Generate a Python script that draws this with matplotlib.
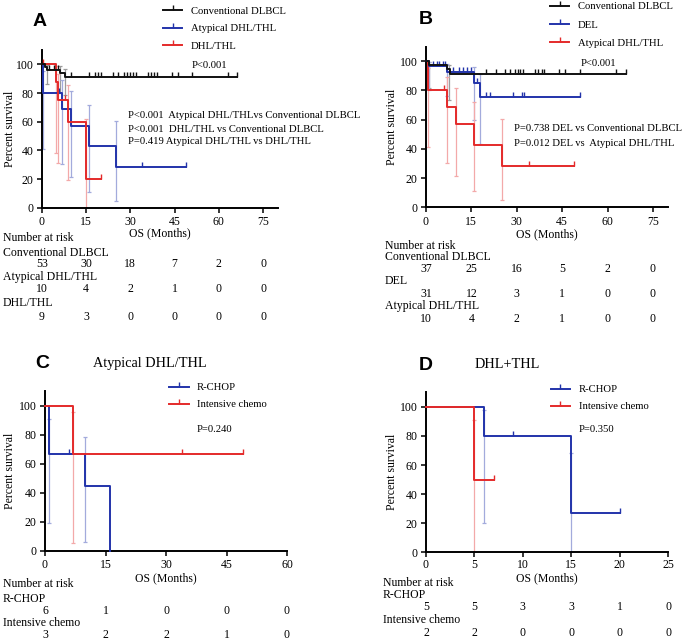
import numpy as np
import matplotlib
matplotlib.use('Agg')
import matplotlib.pyplot as plt
from matplotlib.lines import Line2D
from matplotlib.transforms import blended_transform_factory

plt.rcParams['font.family'] = ['Liberation Serif', 'DejaVu Serif']
plt.rcParams['font.size'] = 8

# ---------------- data ----------------
# Panel A
conv_A_t = [0, 1, 1.8, 6.3, 7.8]
conv_A_s = [100, 98.1, 96.2, 94.2, 91.4]
conv_A_end = 66
conv_A_cens = [2.5, 4, 5.5, 10, 16, 18, 19, 20, 24, 26, 28, 29, 30, 31, 32,
               36, 37, 38, 39, 44, 46, 51, 63, 66]
conv_A_ci_t = [1.8, 6.3, 7.8]
conv_A_ci_lo = [86, 80, 78.5]
conv_A_ci_up = [99.5, 98.5, 97]

atyp_t = [0, 0.5, 7, 10, 16, 25]
atyp_s = [100, 80, 68.6, 57.1, 42.9, 28.6]
atyp_end = 49
atyp_cens = [6, 34, 49]
atyp_ci_t = [0.5, 7, 10, 16, 25]
atyp_ci_lo = [41, 30.5, 21.5, 11, 4.7]
atyp_ci_up = [95.5, 89, 81.5, 71.8, 60.3]

dhl_t = [0, 5, 5.6, 9, 15]
dhl_s = [100, 87.5, 75, 60, 20]
dhl_end = 20
dhl_cens = [0.5, 7.8, 20]
dhl_ci_t = [5, 5.6, 9, 15]
dhl_ci_lo = [38.5, 31, 19.5, 0]
dhl_ci_up = [99, 93, 85.5, 62]

# Panel B
conv_B_t = [0, 1.1, 7, 8]
conv_B_s = [100, 97.3, 94.5, 91.0]
conv_B_end = 66
conv_B_cens = [20, 23, 26, 27.7, 29.4, 30.5, 31.2, 32.1, 35.9, 37, 38.2, 38.9,
               44.1, 46.1, 50.8, 62.9, 66]
conv_B_ci_t = [1.1, 7.5]
conv_B_ci_lo = [81.5, 73.5]
conv_B_ci_up = [99.5, 97.5]

del_t = [0, 1, 7, 16, 18]
del_s = [100, 96.8, 92.9, 85.2, 75.7]
del_end = 51
del_cens = [2.4, 3.5, 4.4, 5.5, 6.3, 9, 11, 12.1, 13.4, 14.9, 16.9, 20, 21.1,
            28.8, 31.6, 32.3, 51]
del_ci_t = [1, 7, 16, 18]
del_ci_lo = [80, 76, 60, 43.3]
del_ci_up = [99.5, 98, 96, 91]

# Panel C (Atypical DHL/THL)
rchopC_t = [0, 1, 10, 16]
rchopC_s = [100, 66.7, 44.4, 0]
rchopC_end = 16
rchopC_cens = [6]
rchopC_ci_t = [1, 10]
rchopC_ci_lo = [19.3, 6.2]
rchopC_ci_up = [90.6, 78.6]

intC_t = [0, 7]
intC_s = [100, 66.7]
intC_end = 49
intC_cens = [34, 49]
intC_ci_t = [7]
intC_ci_lo = [5.1]
intC_ci_up = [95.2]

# Panel D (DHL+THL)
rchopD_t = [0, 6, 15]
rchopD_s = [100, 80, 26.7]
rchopD_end = 20
rchopD_cens = [9, 20]
rchopD_ci_t = [6, 15]
rchopD_ci_lo = [20, 0]
rchopD_ci_up = [97.9, 68.6]

intD_t = [0, 5]
intD_s = [100, 50]
intD_end = 7
intD_cens = [7]
intD_ci_t = [5]
intD_ci_lo = [0]
intD_ci_up = [91]

# risk tables
ticks_AB = [0, 15, 30, 45, 60, 75]
ticks_C = [0, 15, 30, 45, 60]
ticks_D = [0, 5, 10, 15, 20, 25]
risk_A = [("Conventional DLBCL", [53, 30, 18, 7, 2, 0]),
          ("Atypical DHL/THL", [10, 4, 2, 1, 0, 0]),
          ("DHL/THL", [9, 3, 0, 0, 0, 0])]
risk_B = [("Conventional DLBCL", [37, 25, 16, 5, 2, 0]),
          ("DEL", [31, 12, 3, 1, 0, 0]),
          ("Atypical DHL/THL", [10, 4, 2, 1, 0, 0])]
risk_C = [("R-CHOP", [6, 1, 0, 0, 0]),
          ("Intensive chemo", [3, 2, 2, 1, 0])]
risk_D = [("R-CHOP", [5, 5, 3, 3, 1, 0]),
          ("Intensive chemo", [2, 2, 0, 0, 0, 0])]

# ---------------- figure ----------------
W, H = 685, 641
fig = plt.figure(figsize=(W / 100, H / 100), dpi=100)

BLACK = '#111111'
BLUE = '#2233aa'
RED = '#e42a2a'
GRAY_CI = '#9c9c9c'
BLUE_CI = '#a3abdc'
RED_CI = '#f3a9a9'

TXT = 8.5


def fx(px):
    return px / W


def fy(px):
    return 1 - px / H


def add_axes(l, t, r, b):
    return fig.add_axes([l / W, 1 - b / H, (r - l) / W, (b - t) / H])


def km(ax, t, s, end, cens, color, z):
    tt = list(t) + [end]
    ss = list(s) + [s[-1]]
    ax.step(tt, ss, where='post', color=color, lw=1.4, zorder=z, clip_on=False)
    idx = np.searchsorted(t, cens, side='right') - 1
    ax.plot(cens, np.array(s)[idx], ls='none', marker=2, ms=3.8, mew=1.0,
            color=color, zorder=z, clip_on=False)


def ci(ax, t, lo, up, color):
    lo = np.array(lo, float)
    up = np.array(up, float)
    ax.errorbar(t, lo, yerr=[np.zeros_like(lo), up - lo], fmt='none',
                ecolor=color, elinewidth=0.9, capsize=1.6, capthick=0.9, zorder=1)


def style(ax, xmax, xticks, ylab_x, xlab_y, pad=2.5):
    ax.set_xlim(0, xmax)
    ax.set_ylim(0, 110)
    ax.set_xticks(xticks)
    ax.set_yticks([0, 20, 40, 60, 80, 100])
    for sp in ['top', 'right']:
        ax.spines[sp].set_visible(False)
    for sp in ['left', 'bottom']:
        ax.spines[sp].set_linewidth(1.4)
    ax.tick_params(direction='out', length=3.5, width=1.1, pad=2.5, labelsize=8.5)
    ax.tick_params(axis='x', pad=pad)
    ax.set_ylabel('Percent survival', fontsize=8.5, va='center')
    ax.yaxis.set_label_coords(ylab_x, 0.5)
    ax.set_xlabel('OS (Months)', fontsize=8.5, va='center')
    ax.xaxis.set_label_coords(0.5, xlab_y)


def legend(ax, colors, labels, left_px, top_px, spacing):
    hs = [Line2D([], [], color=c, lw=1.4, marker=2, ms=3.8, mew=1.0) for c in colors]
    ax.legend(hs, labels, loc='upper left', bbox_to_anchor=(fx(left_px), fy(top_px)),
              bbox_transform=fig.transFigure, frameon=False, fontsize=7.7,
              handlelength=1.8, handletextpad=0.8, labelspacing=spacing,
              borderpad=0, borderaxespad=0, numpoints=1)


def risk(ax, ticks, rows, label_x, header_y, label_ys, num_ys):
    tr = blended_transform_factory(ax.transData, fig.transFigure)
    fig.text(fx(label_x), fy(header_y), 'Number at risk', ha='left', va='center', fontsize=TXT)
    for (name, vals), ly, ny in zip(rows, label_ys, num_ys):
        fig.text(fx(label_x), fy(ly), name, ha='left', va='center', fontsize=TXT)
        for xv, v in zip(ticks, vals):
            ax.text(xv, fy(ny), str(v), transform=tr, ha='center', va='center',
                    fontsize=TXT, clip_on=False)


def letter(x, y, s):
    fig.text(fx(x), fy(y), s, ha='center', va='center', fontsize=14,
             fontweight='bold', family=['Liberation Sans', 'DejaVu Sans'])


# ---- Panel A ----
axA = add_axes(41.7, 50, 278, 207.7)
ci(axA, conv_A_ci_t, conv_A_ci_lo, conv_A_ci_up, GRAY_CI)
ci(axA, atyp_ci_t, atyp_ci_lo, atyp_ci_up, BLUE_CI)
ci(axA, dhl_ci_t, dhl_ci_lo, dhl_ci_up, RED_CI)
km(axA, atyp_t, atyp_s, atyp_end, atyp_cens, BLUE, 3)
km(axA, dhl_t, dhl_s, dhl_end, dhl_cens, RED, 4)
km(axA, conv_A_t, conv_A_s, conv_A_end, conv_A_cens, BLACK, 5)
style(axA, 80, ticks_AB, -0.134, -0.160)
legend(axA, [BLACK, BLUE, RED], ['Conventional DLBCL', 'Atypical DHL/THL', 'DHL/THL'],
       163, 6.5, 0.74)
fig.text(fx(191.7), fy(65), 'P<0.001', fontsize=7.7, ha='left', va='center')
fig.text(fx(128.3), fy(115.7), 'P<0.001  Atypical DHL/THLvs Conventional DLBCL',
         fontsize=7.7, ha='left', va='center')
fig.text(fx(128.3), fy(129), 'P<0.001  DHL/THL vs Conventional DLBCL',
         fontsize=7.7, ha='left', va='center')
fig.text(fx(128.3), fy(141.5), 'P=0.419 Atypical DHL/THL vs DHL/THL',
         fontsize=7.7, ha='left', va='center')
letter(40, 22, 'A')
risk(axA, ticks_AB, risk_A, 3, 238.5, [252.7, 277.3, 303.5], [264.5, 289.5, 316.5])

# ---- Panel B ----
axB = add_axes(426, 46.7, 668, 207.3)
ci(axB, conv_B_ci_t, conv_B_ci_lo, conv_B_ci_up, GRAY_CI)
ci(axB, del_ci_t, del_ci_lo, del_ci_up, BLUE_CI)
ci(axB, atyp_ci_t, atyp_ci_lo, atyp_ci_up, RED_CI)
km(axB, atyp_t, atyp_s, atyp_end, atyp_cens, RED, 3)
km(axB, del_t, del_s, del_end, del_cens, BLUE, 4)
km(axB, conv_B_t, conv_B_s, conv_B_end, conv_B_cens, BLACK, 5)
style(axB, 80, ticks_AB, -0.142, -0.166)
legend(axB, [BLACK, BLUE, RED], ['Conventional DLBCL', 'DEL', 'Atypical DHL/THL'],
       550, 2, 0.8)
fig.text(fx(580.7), fy(63.3), 'P<0.001', fontsize=7.7, ha='left', va='center')
fig.text(fx(514), fy(128.3), 'P=0.738 DEL vs Conventional DLBCL',
         fontsize=7.7, ha='left', va='center')
fig.text(fx(514), fy(143.3), 'P=0.012 DEL vs  Atypical DHL/THL',
         fontsize=7.7, ha='left', va='center')
letter(426, 19, 'B')
risk(axB, ticks_AB, risk_B, 385, 246, [257.5, 281.5, 306], [269.5, 293.5, 318.5])

# ---- Panel C ----
axC = add_axes(45, 391, 287, 550.7)
ci(axC, rchopC_ci_t, rchopC_ci_lo, rchopC_ci_up, BLUE_CI)
ci(axC, intC_ci_t, intC_ci_lo, intC_ci_up, RED_CI)
km(axC, rchopC_t, rchopC_s, rchopC_end, rchopC_cens, BLUE, 3)
km(axC, intC_t, intC_s, intC_end, intC_cens, RED, 4)
style(axC, 60, ticks_C, -0.145, -0.171)
legend(axC, [BLUE, RED], ['R-CHOP', 'Intensive chemo'], 169.3, 383, 0.68)
fig.text(fx(196.7), fy(429), 'P=0.240', fontsize=7.7, ha='left', va='center')
fig.text(fx(150), fy(363), 'Atypical DHL/THL', fontsize=10.3, ha='center', va='center')
letter(42, 363, 'C')
risk(axC, ticks_C, risk_C, 3, 584, [598.5, 623.5], [611, 635])

# ---- Panel D ----
axD = add_axes(426, 392.3, 668, 552.3)
ci(axD, rchopD_ci_t, rchopD_ci_lo, rchopD_ci_up, BLUE_CI)
ci(axD, intD_ci_t, intD_ci_lo, intD_ci_up, RED_CI)
km(axD, rchopD_t, rchopD_s, rchopD_end, rchopD_cens, BLUE, 3)
km(axD, intD_t, intD_s, intD_end, intD_cens, RED, 4)
style(axD, 25, ticks_D, -0.142, -0.162, pad=1.5)
legend(axD, [BLUE, RED], ['R-CHOP', 'Intensive chemo'], 550.7, 385, 0.68)
fig.text(fx(578.3), fy(430), 'P=0.350', fontsize=7.7, ha='left', va='center')
fig.text(fx(507), fy(365), 'DHL+THL', fontsize=10.3, ha='center', va='center')
letter(426, 365, 'D')
risk(axD, ticks_D, risk_D, 383, 583, [595.5, 620], [607.5, 632.5])

fig.savefig('out.png', dpi=100)
